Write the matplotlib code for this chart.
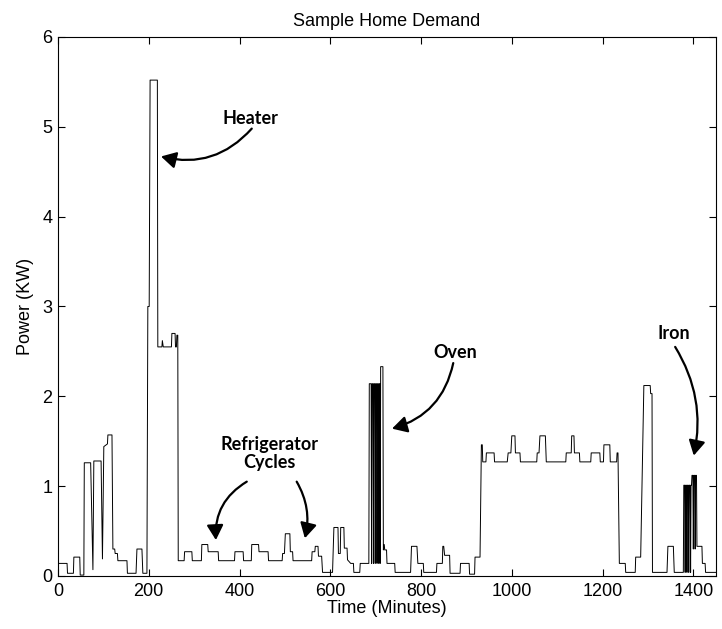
import matplotlib
matplotlib.use("Agg")
import matplotlib.pyplot as plt
import numpy as np

plt.rcParams['font.family'] = ['Liberation Sans', 'DejaVu Sans']

# minute-of-day breakpoints and demand in kW, split by part of the day
early_t = [0, 20, 21, 34, 35, 48, 49, 57, 58, 72, 77, 79, 95, 98, 101, 109, 110, 119,
           121, 125, 126, 131, 132, 152, 153, 172, 174, 185, 187, 196]
early_kw = [0.14, 0.14, 0.03, 0.03, 0.21, 0.21, 0.01, 0.01, 1.26, 1.26, 0.07, 1.28, 1.28, 0.19, 1.44, 1.47, 1.57, 1.57,
            0.30, 0.30, 0.25, 0.25, 0.17, 0.17, 0.03, 0.03, 0.30, 0.30, 0.03, 0.03]

heater_t = [198, 201, 203, 219, 220, 229, 230, 232, 250, 251, 258, 259, 261, 262, 264]
heater_kw = [3.0, 3.0, 5.52, 5.52, 2.55, 2.55, 2.62, 2.55, 2.55, 2.7, 2.7, 2.55, 2.55, 2.68, 2.68]

fridge_t = [265, 278, 279, 295, 296, 316, 317, 330, 331, 353, 354, 389, 390, 408, 409, 426, 427, 442, 443,
            463, 464, 494, 495, 499, 501, 511, 512, 517, 518, 559, 560, 566, 567, 573, 574, 581, 583, 605,
            608, 617, 618, 622, 623, 630, 631, 637, 638, 645, 651, 652, 665, 666, 685]
fridge_kw = [0.17, 0.17, 0.27, 0.27, 0.17, 0.17, 0.35, 0.35, 0.27, 0.27, 0.17, 0.17, 0.27, 0.27, 0.17, 0.17, 0.35, 0.35, 0.27,
             0.27, 0.17, 0.17, 0.25, 0.25, 0.47, 0.47, 0.27, 0.27, 0.17, 0.17, 0.27, 0.27, 0.33, 0.33, 0.22, 0.22, 0.04, 0.04,
             0.54, 0.54, 0.25, 0.25, 0.54, 0.54, 0.31, 0.31, 0.18, 0.14, 0.14, 0.04, 0.04, 0.14, 0.14]

oven_t = [686, 687, 690, 691, 692, 694, 695, 696, 698, 699, 700, 702, 703, 704, 706, 707, 708, 709, 710,
          711, 716, 717]
oven_kw = [2.14, 2.14, 2.14, 0.14, 2.14, 2.14, 0.14, 2.14, 2.14, 0.14, 2.14, 2.14, 0.14, 2.14, 2.14, 0.14, 2.14, 2.14, 0.14,
           2.33, 2.33, 0.29]

evening_t = [719, 720, 724, 725, 742, 743, 777, 779, 791, 793, 805, 806, 834, 835, 847, 848, 850, 852, 863, 864,
             886, 887, 906, 907, 918, 919, 930, 933, 935, 936, 943, 944, 961, 962, 990, 992, 998, 1000, 1007,
             1008, 1018, 1019, 1055, 1056, 1060, 1062, 1074, 1076, 1119, 1120, 1131, 1132, 1137, 1138, 1149,
             1150, 1174, 1175, 1194, 1195, 1202, 1203, 1216, 1217, 1231, 1232, 1234, 1237]
evening_kw = [0.35, 0.29, 0.29, 0.14, 0.14, 0.04, 0.04, 0.33, 0.33, 0.14, 0.14, 0.04, 0.04, 0.14, 0.14, 0.33, 0.33, 0.23, 0.23, 0.03,
              0.03, 0.14, 0.14, 0.02, 0.02, 0.21, 0.21, 1.46, 1.46, 1.27, 1.27, 1.37, 1.37, 1.27, 1.27, 1.37, 1.37, 1.56, 1.56,
              1.37, 1.37, 1.27, 1.27, 1.37, 1.37, 1.56, 1.56, 1.27, 1.27, 1.37, 1.37, 1.56, 1.56, 1.37, 1.37,
              1.27, 1.27, 1.37, 1.37, 1.27, 1.27, 1.46, 1.46, 1.27, 1.27, 1.37, 1.37, 0.14]

night_t = [1250, 1251, 1272, 1273, 1284, 1291, 1305, 1306, 1309, 1310, 1342, 1344, 1356, 1358, 1378,
           1379, 1381, 1382, 1383, 1385, 1386, 1387, 1389, 1390, 1391, 1393, 1394, 1395, 1396,
           1397, 1399, 1400, 1401, 1403, 1404, 1405, 1407, 1408, 1419, 1420, 1426, 1427, 1450]
night_kw = [0.14, 0.04, 0.04, 0.21, 0.21, 2.12, 2.12, 2.03, 2.03, 0.04, 0.04, 0.33, 0.33, 0.04, 0.04,
            1.01, 1.01, 0.04, 1.01, 1.01, 0.04, 1.01, 1.01, 0.04, 1.01, 1.01, 0.04, 1.01, 1.01,
            1.12, 1.12, 0.30, 1.12, 1.12, 0.30, 1.12, 1.12, 0.33, 0.33, 0.14, 0.14, 0.04, 0.04]

minutes = np.concatenate([early_t, heater_t, fridge_t, oven_t, evening_t, night_t])
power = np.concatenate([early_kw, heater_kw, fridge_kw, oven_kw, evening_kw, night_kw])

fig = plt.figure(figsize=(7.22, 6.29), dpi=100)
ax = fig.add_axes([0.0803, 0.0843, 0.9114, 0.8569])
ax.plot(minutes, power, color='black', lw=0.7)

ax.set_xlim(0, 1450)
ax.set_ylim(0, 6)
ax.set_xticks(range(0, 1401, 200))
ax.set_yticks(range(0, 7))
ax.tick_params(direction='in', top=True, right=True, length=5, labelsize=13)
ax.tick_params(axis='x', pad=5)
ax.tick_params(axis='y', pad=4)
for s in ax.spines.values():
    s.set_linewidth(0.8)

ax.set_title('Sample Home Demand', fontsize=13, pad=8)
ax.set_xlabel('Time (Minutes)', fontsize=13, labelpad=0)
ax.set_ylabel('Power (KW)', fontsize=13, labelpad=6)

# appliance callouts
note = dict(fontsize=13, fontweight='bold', family=['Lato', 'DejaVu Sans'], ha='center', va='center')
arrow = dict(arrowstyle='-|>,head_length=0.9,head_width=0.5', color='black', lw=1.6,
             shrinkA=0, shrinkB=0)

ax.text(425, 5.09, 'Heater', **note)
ax.annotate('', xy=(227, 4.67), xytext=(427, 4.98),
            arrowprops=dict(connectionstyle='arc3,rad=-0.3', **arrow))

ax.text(875, 2.49, 'Oven', **note)
ax.annotate('', xy=(736, 1.64), xytext=(871, 2.37),
            arrowprops=dict(connectionstyle='arc3,rad=-0.3', **arrow))

ax.text(467, 1.36, 'Refrigerator\nCycles', linespacing=1.05, **note)
ax.annotate('', xy=(348, 0.40), xytext=(416, 1.05),
            arrowprops=dict(connectionstyle='arc3,rad=0.3', **arrow))
ax.annotate('', xy=(544, 0.42), xytext=(526, 1.05),
            arrowprops=dict(connectionstyle='arc3,rad=-0.2', **arrow))

ax.text(1356, 2.70, 'Iron', **note)
ax.annotate('', xy=(1401, 1.34), xytext=(1360, 2.55),
            arrowprops=dict(connectionstyle='arc3,rad=-0.2', **arrow))

fig.savefig('out.png', dpi=100)
